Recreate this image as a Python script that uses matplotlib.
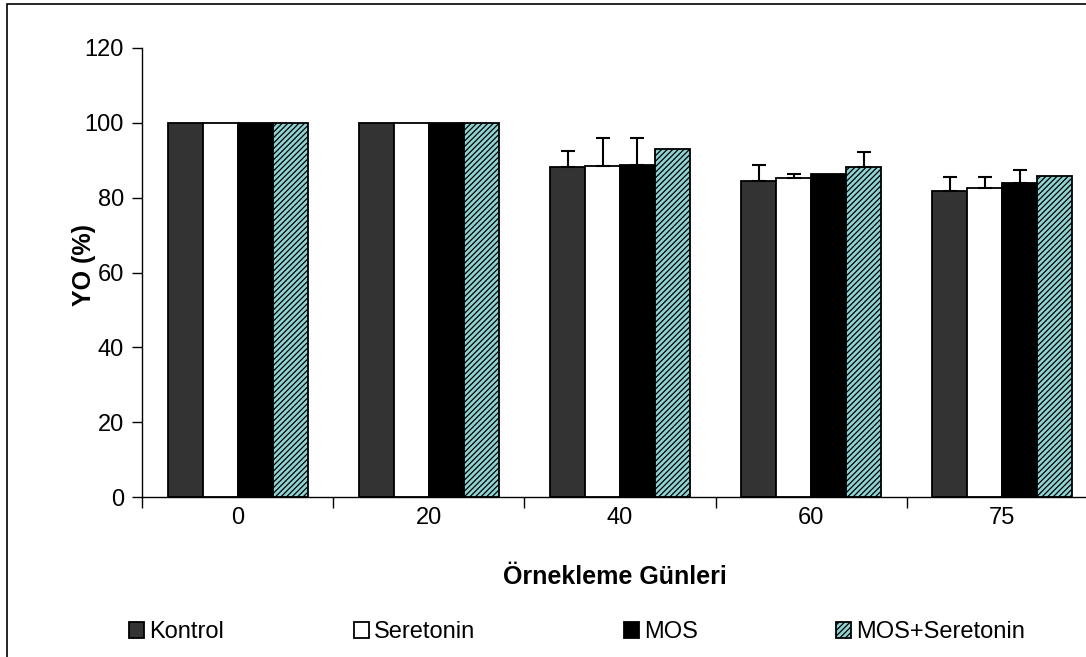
import numpy as np
import matplotlib
matplotlib.use('Agg')
from matplotlib import pyplot as plt
from matplotlib.patches import Patch, Rectangle

plt.rcParams['font.family'] = ['Liberation Sans', 'DejaVu Sans']
plt.rcParams['hatch.linewidth'] = 0.9

# Data
days = ['0', '20', '40', '60', '75']
series = ['Kontrol', 'Seretonin', 'MOS', 'MOS+Seretonin']
kontrol = [100, 100, 88.3, 84.5, 81.9]
seretonin = [100, 100, 88.5, 85.2, 82.5]
mos = [100, 100, 88.6, 86.2, 84.0]
mos_seretonin = [100, 100, 93.0, 88.3, 85.9]
kontrol_err = [0, 0, 4.2, 4.2, 3.5]
seretonin_err = [0, 0, 7.5, 1.2, 3.1]
mos_err = [0, 0, 7.4, 0, 3.3]
mos_seretonin_err = [0, 0, 0, 3.8, 0]

values = [kontrol, seretonin, mos, mos_seretonin]
errors = [kontrol_err, seretonin_err, mos_err, mos_seretonin_err]
faces = ['#333333', 'white', 'black', '#8fd3d3']
hatches = [None, None, None, '//////']

fig = plt.figure(figsize=(10.86, 6.57), dpi=100)
# outer frame (only top and left visible in the cropped picture)
fig.add_artist(Rectangle((7 / 1086, -0.1), 1.2, 1.1 - 4 / 657,
                         transform=fig.transFigure, fill=False,
                         edgecolor='black', linewidth=1.2))

ax = fig.add_axes([142 / 1086, 1 - 497 / 657, 956 / 1086, 449 / 657])

x = np.arange(len(days))
w = 0.183
for i in range(4):
    pos = x + (i - 1.5) * w
    ax.bar(pos, values[i], width=w, color=faces[i], edgecolor='black',
           linewidth=1.3, hatch=hatches[i], zorder=2)
    err = np.array(errors[i])
    mask = err > 0
    if mask.any():
        ax.errorbar(pos[mask], np.array(values[i])[mask],
                    yerr=[np.zeros(mask.sum()), err[mask]], fmt='none',
                    ecolor='black', elinewidth=1.5, capsize=5, capthick=1.5,
                    zorder=3)

ax.set_xlim(-0.5, len(days) - 0.5)
ax.set_ylim(0, 120)
ax.set_yticks(range(0, 121, 20))
ax.set_xticks(x)
ax.set_xticklabels(days)
ax.set_xticks(np.arange(-0.5, len(days), 1.0), minor=True)
ax.tick_params(axis='x', which='major', length=0, pad=7, labelsize=17)
ax.tick_params(axis='x', which='minor', length=8, width=1, direction='out')
ax.tick_params(axis='y', length=7, width=1, direction='out', labelsize=17,
               pad=6)
for s in ['top', 'right']:
    ax.spines[s].set_visible(False)
for s in ['left', 'bottom']:
    ax.spines[s].set_linewidth(1)

fig.text(84 / 1086, 1 - 265 / 657, 'YO (%)', rotation=90, ha='center',
         va='center', fontsize=18, fontweight='bold')
fig.text(615 / 1086, 1 - 577 / 657, 'Örnekleme Günleri', ha='center',
         va='center', fontsize=18, fontweight='bold')

# one legend per entry so each sits where the reference puts it
legend_x = [129, 354, 624, 836]
for i in range(4):
    h = Patch(facecolor=faces[i], edgecolor='black', linewidth=1.3,
              hatch=hatches[i])
    fig.legend([h], [series[i]], loc='center left',
               bbox_to_anchor=(legend_x[i] / 1086, 1 - 632 / 657),
               frameon=False, fontsize=17, handlelength=0.65,
               handleheight=0.65, handletextpad=0.2, borderpad=0,
               borderaxespad=0)

fig.savefig('out.png', dpi=100)
